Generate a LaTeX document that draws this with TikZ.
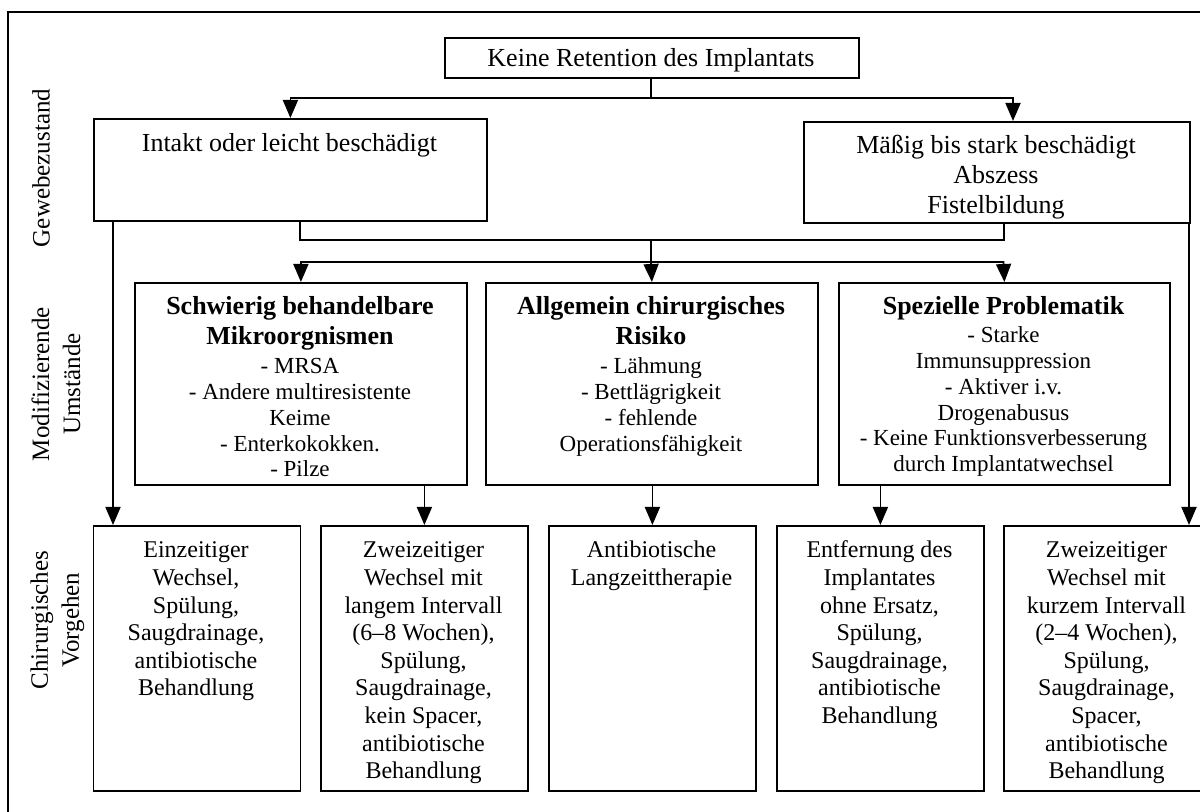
\documentclass[tikz,border=0pt]{standalone}
\usepackage{fontspec}
\setmainfont{Liberation Serif}
\usetikzlibrary{arrows.meta}
\newcommand{\ctext}[2]{\parbox[t]{#1}{\centering #2}}
\begin{document}
\begin{tikzpicture}[x=0.5pt,y=-0.5pt,
  box/.style={draw, line width=0.9pt, inner sep=0pt, anchor=north west},
  txt/.style={inner sep=0pt, anchor=base},
  fT/.style={font=\fontsize{13}{15}\selectfont},
  fH/.style={font=\fontsize{13}{15}\selectfont\bfseries},
  fM/.style={font=\fontsize{11.5}{12.85}\selectfont},
  fB/.style={font=\fontsize{12}{13.8}\selectfont},
  fL/.style={font=\fontsize{12.5}{15.5}\selectfont, inner sep=0pt, align=center, rotate=90, anchor=center},
  conn/.style={line width=0.9pt},
  arr/.style={conn, -{Triangle[length=9pt,width=7.5pt]}},
]
\clip (0,0) rectangle (1200,812);
\draw[line width=0.75pt] (8,840) -- (8,12) -- (1230,12);

% side labels
\node[fL] (lab1) at (41,168) {Gewebezustand};
\node[fL] (lab2) at (56,384) {Modifizierende\\Umstände};
\node[fL] (lab3) at (57.5,620) {Chirurgisches\\Vorgehen};

% top
\node[box, minimum width=207pt, minimum height=20pt] (top) at (444,37) {};
\node[txt, fT] (topt) at (651,67) {Keine Retention des Implantats};

% tissue state
\node[box, minimum width=196.5pt, minimum height=51pt] (intakt) at (93,118) {};
\node[txt, fT] (intaktt) at (289.5,152) {Intakt oder leicht beschädigt};
\node[box, minimum width=193pt, minimum height=50.5pt] (maessig) at (803,121) {};
\node[txt, fT] (maessigt) at (996,154) {\ctext{190pt}{Mäßig bis stark beschädigt\\Abszess\\Fistelbildung}};

% modifying circumstances
\node[box, minimum width=166pt, minimum height=101pt] (mod1) at (134,282) {};
\node[box, minimum width=166pt, minimum height=101pt] (mod2) at (485,282) {};
\node[box, minimum width=165.5pt, minimum height=101pt] (mod3) at (838,282) {};
\node[txt, fH] (mod1h) at (300,315) {\ctext{160pt}{Schwierig behandelbare\\Mikroorgnismen}};
\node[txt, fM] (mod1b) at (300,374) {\ctext{160pt}{- MRSA\\- Andere multiresistente\\Keime\\- Enterkokokken.\\- Pilze}};
\node[txt, fH] (mod2h) at (651,315) {\ctext{160pt}{Allgemein chirurgisches\\Risiko}};
\node[txt, fM] (mod2b) at (651,374) {\ctext{160pt}{- Lähmung\\- Bettlägrigkeit\\- fehlende\\Operationsfähigkeit}};
\node[txt, fH] (mod3h) at (1003.5,315) {Spezielle Problematik};
\node[txt, fM] (mod3b) at (1003.5,343) {\ctext{160pt}{- Starke\\Immunsuppression\\- Aktiver i.v.\\Drogenabusus\\- Keine Funktionsverbesserung\\durch Implantatwechsel}};

% surgical procedure
\node[box, minimum width=103.5pt, minimum height=132.5pt] (b1) at (92.5,525) {};
\node[box, minimum width=103.5pt, minimum height=132.5pt] (b2) at (320,525) {};
\node[box, minimum width=103.5pt, minimum height=132.5pt] (b3) at (548,525) {};
\node[box, minimum width=103.5pt, minimum height=132.5pt] (b4) at (776,525) {};
\node[box, minimum width=103.5pt, minimum height=132.5pt] (b5) at (1003,525) {};
\node[txt, fB] (b1t) at (196,558) {\ctext{102pt}{Einzeitiger\\Wechsel,\\Spülung,\\Saugdrainage,\\antibiotische\\Behandlung}};
\node[txt, fB] (b2t) at (423.5,558) {\ctext{102pt}{Zweizeitiger\\Wechsel mit\\langem Intervall\\(6–8 Wochen),\\Spülung,\\Saugdrainage,\\kein Spacer,\\antibiotische\\Behandlung}};
\node[txt, fB] (b3t) at (651.5,558) {\ctext{102pt}{Antibiotische\\Langzeittherapie}};
\node[txt, fB] (b4t) at (879.5,558) {\ctext{102pt}{Entfernung des\\Implantates\\ohne Ersatz,\\Spülung,\\Saugdrainage,\\antibiotische\\Behandlung}};
\node[txt, fB] (b5t) at (1106.5,558) {\ctext{102pt}{Zweizeitiger\\Wechsel mit\\kurzem Intervall\\(2–4 Wochen),\\Spülung,\\Saugdrainage,\\Spacer,\\antibiotische\\Behandlung}};

% connectors
\coordinate (j1) at (651,98);
\coordinate (jR) at (1013,98);
\coordinate (c1) at (300,240);
\coordinate (c2) at (1004,240);
\coordinate (cm) at (651,240);
\coordinate (d1) at (300,262);
\coordinate (d2) at (651,262);
\coordinate (d3) at (1003.5,262);
\coordinate (L) at (113,0);
\coordinate (R) at (1189,0);

\draw[conn] (j1 |- top.south) -- (j1);
\draw[arr] (j1) -| (intakt.north);
\draw[arr] (j1) -- (jR) -- (jR |- maessig.north);

\draw[conn] (c1 |- intakt.south) -- (c1) -- (c2) -- (c2 |- maessig.south);
\draw[conn] (cm) -- (d2);
\draw[arr] (d2) -| (mod1.north);
\draw[arr] (d2) -- (mod2.north);
\draw[arr] (d2) -- (d3) -- (mod3.north);

\draw[arr] (L |- intakt.south) -- (L |- b1.north);
\draw[arr] (R |- maessig.south) -- (R |- b5.north);
\draw[arr] (b2.north |- mod1.south) -- (b2.north);
\draw[arr] (b3.north |- mod2.south) -- (b3.north);
\draw[arr] (b4.north |- mod3.south) -- (b4.north);
\end{tikzpicture}
\end{document}
